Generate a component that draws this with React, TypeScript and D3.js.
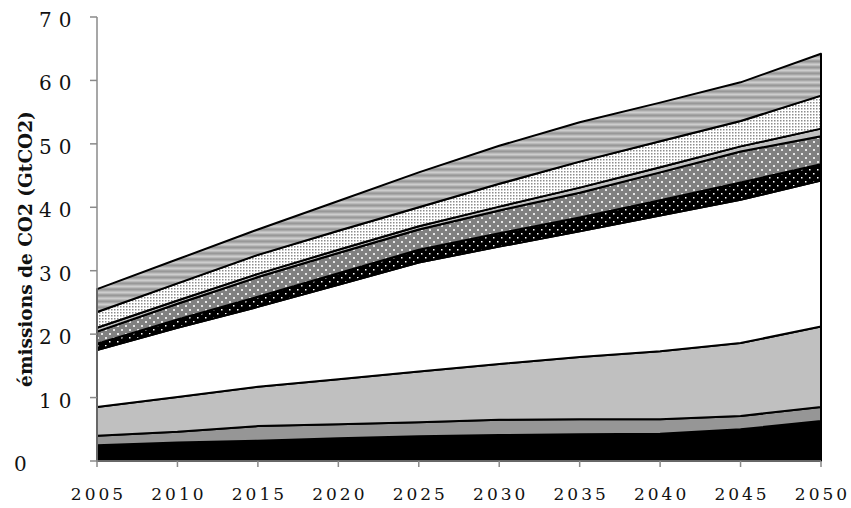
import React from "react";
import * as d3 from "d3";

const years = [2005, 2010, 2015, 2020, 2025, 2030, 2035, 2040, 2045, 2050];
// stacked series, bottom to top (GtCO2)
const s1 = [2.5, 2.9, 3.2, 3.6, 3.9, 4.1, 4.2, 4.3, 5.0, 6.3];
const s2 = [1.5, 1.7, 2.3, 2.2, 2.2, 2.4, 2.4, 2.3, 2.1, 2.2];
const s3 = [4.5, 5.5, 6.2, 7.1, 8.0, 8.8, 9.8, 10.7, 11.5, 12.7];
const s4 = [9.0, 10.9, 12.6, 14.9, 17.2, 18.5, 19.8, 21.4, 22.6, 23.0];
const s5 = [1.0, 1.3, 1.6, 1.8, 2.0, 2.1, 2.2, 2.4, 2.7, 2.6];
const s6 = [1.9, 2.5, 3.1, 3.2, 3.2, 3.6, 3.9, 4.4, 4.9, 4.4];
const s7 = [0.6, 0.5, 0.5, 0.5, 0.5, 0.6, 0.8, 0.8, 0.8, 1.2];
const s8 = [2.5, 2.7, 3.0, 3.0, 3.0, 3.6, 4.1, 4.1, 4.0, 5.2];
const s9 = [3.6, 3.8, 4.0, 4.7, 5.5, 6.0, 6.2, 6.1, 6.1, 6.6];
const seriesList = [s1, s2, s3, s4, s5, s6, s7, s8, s9];
const yTicks = [0, 10, 20, 30, 40, 50, 60, 70];
const xTicks = [2005, 2010, 2015, 2020, 2025, 2030, 2035, 2040, 2045, 2050];
const yTitle = "émissions de CO2 (GtCO2)";

const fills = [
  "#000000",
  "#969696",
  "#c0c0c0",
  "#ffffff",
  "url(#pBlackDots)",
  "url(#pGrayDots)",
  "#c0c0c0",
  "url(#pWhiteDots)",
  "url(#pStripes)",
];

export default function App() {
  const W = 851, H = 508;
  const x = d3.scaleLinear().domain([2005, 2050]).range([97, 821]);
  const y = d3.scaleLinear().domain([0, 70]).range([461, 17]);

  const table = years.map((yr, i) => {
    const row: any = { year: yr };
    seriesList.forEach((s, k) => (row["k" + k] = s[i]));
    return row;
  });
  const keys = seriesList.map((_, k) => "k" + k);
  const stacked = d3.stack().keys(keys)(table);
  const area = d3
    .area<any>()
    .x((d) => x(d.data.year))
    .y0((d) => y(d[0]))
    .y1((d) => y(d[1]));

  const font = "'DejaVu Serif', serif";
  const axisColor = "#8a8a8a";

  return (
    <svg width={W} height={H} style={{ position: "absolute", left: 0, top: 0, background: "#fff" }}>
      <defs>
        <pattern id="pBlackDots" width={8} height={8} patternUnits="userSpaceOnUse">
          <rect width={8} height={8} fill="#000" />
          <rect x={1} y={1} width={1.5} height={1.5} fill="#fff" />
          <rect x={5} y={5} width={1.5} height={1.5} fill="#fff" />
        </pattern>
        <pattern id="pGrayDots" width={8} height={8} patternUnits="userSpaceOnUse">
          <rect width={8} height={8} fill="#808080" />
          <rect x={1} y={1} width={2} height={2} fill="#e6e6e6" />
          <rect x={5} y={5} width={2} height={2} fill="#e6e6e6" />
        </pattern>
        <pattern id="pWhiteDots" width={3} height={3} patternUnits="userSpaceOnUse">
          <rect width={3} height={3} fill="#fff" />
          <rect x={0} y={0} width={1.5} height={1.5} fill="#8c8c8c" />
        </pattern>
        <pattern id="pStripes" width={6} height={6} patternUnits="userSpaceOnUse">
          <rect y={0} width={6} height={1} fill="#a4a4a4" />
          <rect y={1} width={6} height={1} fill="#989898" />
          <rect y={2} width={6} height={1} fill="#a8a8a8" />
          <rect y={3} width={6} height={1} fill="#bebebe" />
          <rect y={4} width={6} height={1} fill="#cdcdcd" />
          <rect y={5} width={6} height={1} fill="#bbbbbb" />
        </pattern>
      </defs>

      {stacked.map((layer, k) => (
        <path
          key={k}
          d={area(layer as any) || ""}
          fill={fills[k]}
          stroke="#000"
          strokeWidth={2}
          strokeLinejoin="round"
        />
      ))}

      {/* y axis */}
      <line x1={97} x2={97} y1={y(70)} y2={y(0)} stroke={axisColor} strokeWidth={1.5} />
      {yTicks.map((t) => (
        <g key={t}>
          <line x1={90} x2={97} y1={y(t)} y2={y(t)} stroke={axisColor} strokeWidth={1.5} />
          <text
            x={t === 0 ? 14 : 39}
            y={y(t) + 10}
            fontFamily={font}
            fontSize={20}
            letterSpacing={7}
            fill="#111"
          >
            {t}
          </text>
        </g>
      ))}

      {/* x axis */}
      <line x1={97} x2={821} y1={y(0)} y2={y(0)} stroke={axisColor} strokeWidth={1.5} />
      {xTicks.map((t) => (
        <g key={t}>
          <line x1={x(t)} x2={x(t)} y1={y(0)} y2={y(0) + 6} stroke={axisColor} strokeWidth={1.5} />
          <text
            x={x(t) + 1.5}
            y={500}
            textAnchor="middle"
            fontFamily={font}
            fontSize={17}
            letterSpacing={3}
            fill="#111"
          >
            {t}
          </text>
        </g>
      ))}

      <text
        transform={`translate(32,249) rotate(-90)`}
        textAnchor="middle"
        fontFamily={font}
        fontWeight="bold"
        fontSize={18.5}
        fill="#111"
      >
        {yTitle}
      </text>
    </svg>
  );
}
